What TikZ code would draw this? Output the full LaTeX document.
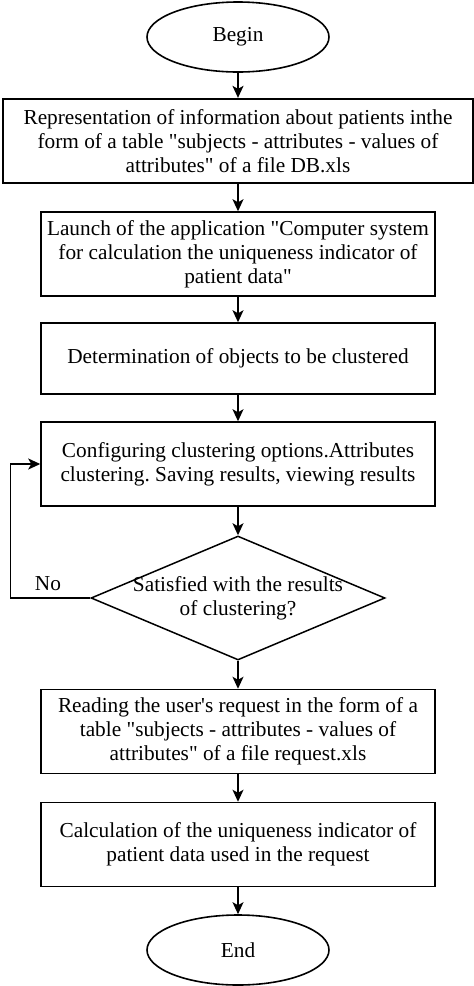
\documentclass[tikz,border=0pt]{standalone}
\usepackage{fontspec}
\setmainfont{Liberation Serif}[Ligatures=TeXOff]
\usetikzlibrary{shapes.geometric,arrows.meta}
\frenchspacing
\begin{document}
\begin{tikzpicture}[x=1pt,y=-1pt,
  every node/.style={font=\fontsize{21.3}{24}\selectfont},
  terminal/.style={ellipse,draw,line width=1.6pt,minimum width=182pt,minimum height=70pt,inner sep=0pt},
  procbox/.style={rectangle,draw,line width=1.5pt,minimum width=394pt,minimum height=84pt,align=center,inner sep=0pt},
  decision/.style={diamond,draw,line width=1.5pt,minimum width=294pt,minimum height=124pt,inner sep=0pt},
  flow/.style={line width=1.5pt,-{Stealth[length=12pt,width=11pt,inset=3pt]}}
]
\useasboundingbox[fill=white] (0,0) rectangle (474,986);
\node[terminal] (begin) at (238,37) {Begin};
\node[procbox,minimum width=470pt,line width=2.3pt] (b1) at (238,141) {Representation of information about patients inthe\\form of a table "subjects - attributes - values of\\attributes" of a file DB.xls};
\node[procbox] (b2) at (238,254) {Launch of the application "Computer system\\for calculation the uniqueness indicator of\\patient data"};
\node[procbox,minimum height=71pt] (b3) at (238,358.5) {Determination of objects to be clustered};
\node[procbox] (b4) at (238,464) {Configuring clustering options.Attributes\\clustering. Saving results, viewing results};
\node[decision] (dia) at (238,598) {};
\node[align=center] (diatext) at (238,598) {Satisfied with the results\\of clustering?};
\node[procbox] (b5) at (238,731.5) {Reading the user's request in the form of a\\table "subjects - attributes - values of\\attributes" of a file request.xls};
\node[procbox] (b6) at (238,844.5) {Calculation of the uniqueness indicator of\\patient data used in the request};
\node[terminal] (end) at (238,950) {End};
\node (no) at (48,584) {No};
\draw[flow] (begin) -- (b1);
\draw[flow] (b1) -- (b2);
\draw[flow] (b2) -- (b3);
\draw[flow] (b3) -- (b4);
\draw[flow] (b4) -- (dia);
\draw[flow] (dia) -- (b5);
\draw[flow] (b5) -- (b6);
\draw[flow] (b6) -- (end);
\draw[flow] (dia.west) -- ++(-80,0) |- (b4.west);
\end{tikzpicture}
\end{document}
